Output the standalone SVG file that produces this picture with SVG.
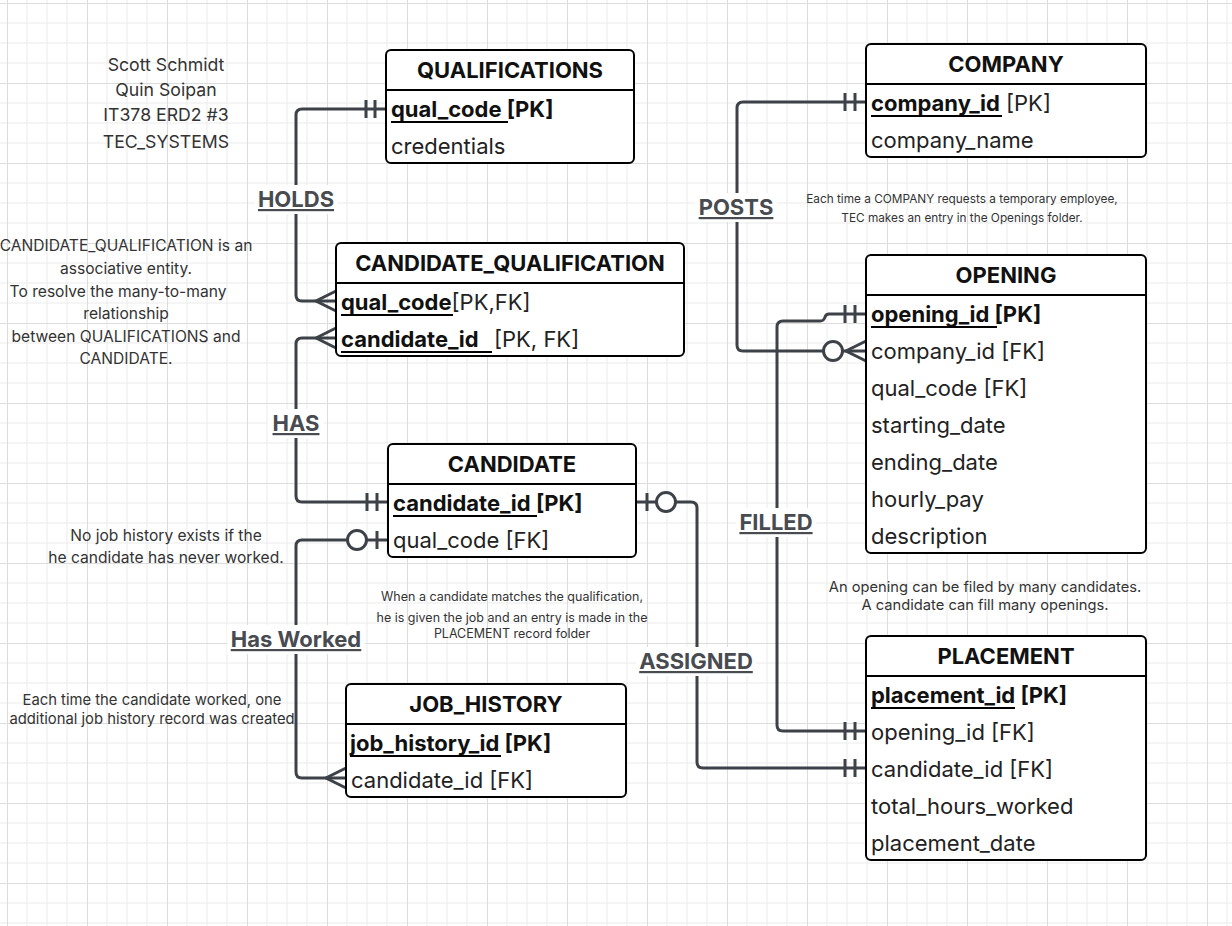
<svg xmlns="http://www.w3.org/2000/svg" width="1232" height="926" viewBox="0 0 1232 926">
<defs>
<pattern id="grid" x="7" y="3" width="80" height="80" patternUnits="userSpaceOnUse">
<path d="M20,0V80M40,0V80M60,0V80M0,20H80M0,40H80M0,60H80" stroke="#ebebeb" stroke-width="1" fill="none"/>
<path d="M0.5,0V80M0,0.5H80" stroke="#dcdcdc" stroke-width="1" fill="none"/>
</pattern>
<style>
.box{fill:#fff;stroke:#000;stroke-width:2}
.div{stroke:#000;stroke-width:2}
.title{font-family:Inter,"Liberation Sans",sans-serif;font-size:22px;font-weight:bold;fill:#111;text-anchor:middle}
.row{font-family:Inter,"Liberation Sans",sans-serif;font-size:22px;fill:#222}
.pk{font-weight:bold;fill:#111}
.ul{stroke:#000;stroke-width:2}
.conn{fill:none;stroke:#3d4148;stroke-width:3;stroke-linejoin:round}
.mk{fill:none;stroke:#3d4148;stroke-width:3}
.circ{fill:#fff;stroke:#3d4148;stroke-width:3}
.lbl{font-family:Inter,"Liberation Sans",sans-serif;font-size:22px;font-weight:bold;fill:#484b50;text-anchor:middle;text-decoration:underline}
.lblbg{fill:#fff}
.note{font-family:Inter,"Liberation Sans",sans-serif;fill:#333;text-anchor:middle}
</style>
</defs>
<rect width="1232" height="926" fill="#fff"/>
<rect width="1232" height="926" fill="url(#grid)"/>

<g id="connectors">
<!-- HOLDS -->
<path class="conn" d="M386,109 H302 Q296,109 296,115 V295 Q296,301 302,301 H336"/>
<path class="mk" d="M366,100V118M375,100V118"/>
<path class="mk" d="M336,291 L316,301 L336,311"/>
<!-- HAS -->
<path class="conn" d="M336,338 H302 Q296,338 296,344 V496 Q296,502 302,502 H388"/>
<path class="mk" d="M316,338 L336,328 M316,338 L336,348"/>
<path class="mk" d="M367,493V511M377,493V511"/>
<!-- Has Worked -->
<path class="conn" d="M388,540 H302 Q296,540 296,546 V772 Q296,778 302,778 H346"/>
<path class="mk" d="M377,531V549"/>
<circle class="circ" cx="357" cy="540" r="9.5"/>
<path class="mk" d="M346,768 L326,778 L346,788"/>
<!-- ASSIGNED -->
<path class="conn" d="M636,502 H691 Q697,502 697,508 V762 Q697,768 703,768 H866"/>
<path class="mk" d="M647,493V511"/>
<circle class="circ" cx="666" cy="502" r="9.5"/>
<path class="mk" d="M845,759V777M855,759V777"/>
<!-- POSTS -->
<path class="conn" d="M866,102 H743 Q737,102 737,108 V345 Q737,351 743,351 H866"/>
<path class="mk" d="M845,93V111M855,93V111"/>
<circle class="circ" cx="833" cy="351" r="9.5"/>
<path class="mk" d="M866,341 L846,351 L866,361"/>
<!-- FILLED -->
<path class="conn" d="M866,314 H829 Q826,314 825,317 Q824,321 820,321 H783 Q777,321 777,327 V725 Q777,731 783,731 H866"/>
<path class="mk" d="M845,305V323M855,305V323"/>
<path class="mk" d="M845,722V740M855,722V740"/>
<!-- labels -->
<rect class="lblbg" x="255" y="185" width="82" height="29"/>
<text class="lbl" x="296" y="207">HOLDS</text>
<rect class="lblbg" x="268" y="409" width="56" height="29"/>
<text class="lbl" x="296" y="431">HAS</text>
<rect class="lblbg" x="227" y="625" width="138" height="29"/>
<text class="lbl" x="296" y="647">Has Worked</text>
<rect class="lblbg" x="636" y="647" width="120" height="29"/>
<text class="lbl" x="696" y="669">ASSIGNED</text>
<rect class="lblbg" x="695" y="193" width="82" height="29"/>
<text class="lbl" x="736" y="215">POSTS</text>
<rect class="lblbg" x="736" y="508" width="80" height="29"/>
<text class="lbl" x="776" y="530">FILLED</text>
</g>

<g id="QUALIFICATIONS">
<rect class="box" x="386" y="50" width="248" height="113" rx="5"/>
<line class="div" x1="386" y1="90" x2="634" y2="90"/>
<text class="title" x="510" y="78">QUALIFICATIONS</text>
<text class="row pk" x="391" y="117">qual_code [PK]</text>
<line class="ul" x1="391" y1="122" x2="508" y2="122"/>
<text class="row" x="391" y="154">credentials</text>
</g>

<g id="CANDIDATE_QUALIFICATION">
<rect class="box" x="336" y="243" width="348" height="113" rx="5"/>
<line class="div" x1="336" y1="283" x2="684" y2="283"/>
<text class="title" x="510" y="271">CANDIDATE_QUALIFICATION</text>
<text class="row" x="341" y="310"><tspan class="pk">qual_code</tspan>[PK,FK]</text>
<line class="ul" x1="341" y1="315" x2="453" y2="315"/>
<text class="row" x="341" y="347"><tspan class="pk">candidate_id</tspan><tspan x="494">[PK, FK]</tspan></text>
<line class="ul" x1="341" y1="352" x2="492" y2="352"/>
</g>

<g id="CANDIDATE">
<rect class="box" x="388" y="444" width="248" height="113" rx="5"/>
<line class="div" x1="388" y1="484" x2="636" y2="484"/>
<text class="title" x="512" y="472">CANDIDATE</text>
<text class="row pk" x="393" y="511">candidate_id [PK]</text>
<line class="ul" x1="393" y1="516" x2="537" y2="516"/>
<text class="row" x="393" y="548">qual_code [FK]</text>
</g>

<g id="JOB_HISTORY">
<rect class="box" x="346" y="684" width="280" height="113" rx="5"/>
<line class="div" x1="346" y1="724" x2="626" y2="724"/>
<text class="title" x="486" y="712">JOB_HISTORY</text>
<text class="row pk" x="350" y="751">job_history_id [PK]</text>
<line class="ul" x1="350" y1="756" x2="501" y2="756"/>
<text class="row" x="351" y="788">candidate_id [FK]</text>
</g>

<g id="COMPANY">
<rect class="box" x="866" y="44" width="280" height="113" rx="5"/>
<line class="div" x1="866" y1="84" x2="1146" y2="84"/>
<text class="title" x="1006" y="72">COMPANY</text>
<text class="row" x="871" y="111"><tspan class="pk">company_id</tspan> [PK]</text>
<line class="ul" x1="871" y1="116" x2="1002" y2="116"/>
<text class="row" x="871" y="148">company_name</text>
</g>

<g id="OPENING">
<rect class="box" x="866" y="255" width="280" height="298" rx="5"/>
<line class="div" x1="866" y1="295" x2="1146" y2="295"/>
<text class="title" x="1006" y="283">OPENING</text>
<text class="row pk" x="871" y="322">opening_id [PK]</text>
<line class="ul" x1="871" y1="327" x2="997" y2="327"/>
<text class="row" x="871" y="359">company_id [FK]</text>
<text class="row" x="871" y="396">qual_code [FK]</text>
<text class="row" x="871" y="433">starting_date</text>
<text class="row" x="871" y="470">ending_date</text>
<text class="row" x="871" y="507">hourly_pay</text>
<text class="row" x="871" y="544">description</text>
</g>

<g id="PLACEMENT">
<rect class="box" x="866" y="636" width="280" height="224" rx="5"/>
<line class="div" x1="866" y1="676" x2="1146" y2="676"/>
<text class="title" x="1006" y="664">PLACEMENT</text>
<text class="row pk" x="871" y="703">placement_id [PK]</text>
<line class="ul" x1="871" y1="708" x2="1015" y2="708"/>
<text class="row" x="871" y="740">opening_id [FK]</text>
<text class="row" x="871" y="777">candidate_id [FK]</text>
<text class="row" x="871" y="814">total_hours_worked</text>
<text class="row" x="871" y="851">placement_date</text>
</g>

<g id="notes">
<text class="note" font-size="17.7" x="166" y="71">Scott Schmidt</text>
<text class="note" font-size="17.7" x="166" y="96">Quin Soipan</text>
<text class="note" font-size="17.7" x="166" y="121">IT378 ERD2 #3</text>
<text class="note" font-size="17.7" x="166" y="148">TEC_SYSTEMS</text>

<text class="note" font-size="15.6" x="126" y="251">CANDIDATE_QUALIFICATION is an</text>
<text class="note" font-size="15.6" x="126" y="274">associative entity.</text>
<text class="note" font-size="15.6" x="118" y="297">To resolve the many-to-many</text>
<text class="note" font-size="15.6" x="126" y="319">relationship</text>
<text class="note" font-size="15.6" x="126" y="342">between QUALIFICATIONS and</text>
<text class="note" font-size="15.6" x="126" y="364">CANDIDATE.</text>

<text class="note" font-size="15.6" x="166" y="541">No job history exists if the</text>
<text class="note" font-size="15.6" x="166" y="563">he candidate has never worked.</text>

<text class="note" font-size="12.5" x="512" y="601">When a candidate matches the qualification,</text>
<text class="note" font-size="12.5" x="512" y="622">he is given the job and an entry is made in the</text>
<text class="note" font-size="12.5" x="512" y="638">PLACEMENT record folder</text>

<text class="note" font-size="14.8" x="152" y="705">Each time the candidate worked, one</text>
<text class="note" font-size="14.8" x="152" y="724">additional job history record was created</text>

<text class="note" font-size="11.8" x="962" y="203">Each time a COMPANY requests a temporary employee,</text>
<text class="note" font-size="11.8" x="962" y="222">TEC makes an entry in the Openings  folder.</text>

<text class="note" font-size="14.7" x="985" y="592">An opening can be filed by many candidates.</text>
<text class="note" font-size="14.7" x="985" y="610">A candidate can fill many openings.</text>
</g>
</svg>
